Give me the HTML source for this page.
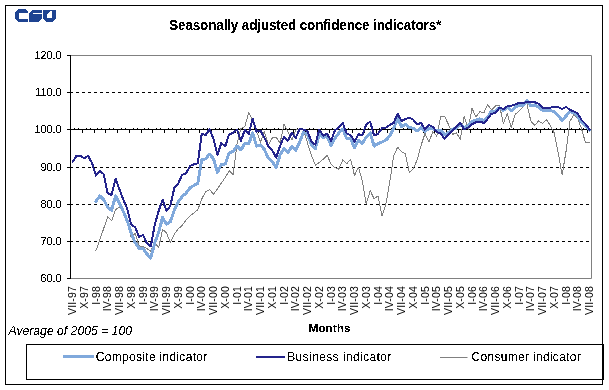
<!DOCTYPE html>
<html><head><meta charset="utf-8"><title>Seasonally adjusted confidence indicators</title>
<style>
html,body{margin:0;padding:0;background:#fff;}
body{width:609px;height:390px;overflow:hidden;}
svg{display:block;font-family:"Liberation Sans",sans-serif;}
</style></head><body>
<svg width="609" height="390" viewBox="0 0 609 390">
<rect x="0" y="0" width="609" height="390" fill="#fff"/>

<rect x="5.5" y="5.5" width="597" height="379" fill="none" stroke="#000" stroke-width="1"/>
<g fill="#1e4391" shape-rendering="crispEdges"><path d="M17.9,9.2 H25.8 L27.8,11.5 V12.7 H18.7 V19 H27.8 V21.8 H17.9 L15,18.8 V13.1 Z"/><path d="M29.2,13.3 L33.1,9.8 H41.6 V12.7 H33 V14.2 H41.6 V18.5 L38.8,21.8 H29.2 Z"/><path fill-rule="evenodd" d="M43.3,10.1 H55.6 V19 L52.8,21.8 H46.3 L43.3,19 Z M47.2,14 L50.5,11.2 H52 V17.8 H47.2 Z"/></g>
<path d="M70,55.5 H591.5 V278.5 H70" fill="none" stroke="#808080" stroke-width="1"/>
<line x1="70" y1="92.5" x2="591" y2="92.5" stroke="#000" stroke-width="1" stroke-dasharray="3,3"/>
<line x1="70" y1="167.5" x2="591" y2="167.5" stroke="#000" stroke-width="1" stroke-dasharray="3,3"/>
<line x1="70" y1="204.5" x2="591" y2="204.5" stroke="#000" stroke-width="1" stroke-dasharray="3,3"/>
<line x1="70" y1="241.5" x2="591" y2="241.5" stroke="#000" stroke-width="1" stroke-dasharray="3,3"/>
<line x1="70" y1="129.5" x2="591" y2="129.5" stroke="#000" stroke-width="1"/>
<line x1="70.5" y1="55" x2="70.5" y2="279" stroke="#000" stroke-width="1"/>
<line x1="67" y1="55.5" x2="70" y2="55.5" stroke="#000" stroke-width="1"/>
<line x1="67" y1="92.5" x2="70" y2="92.5" stroke="#000" stroke-width="1"/>
<line x1="67" y1="129.5" x2="70" y2="129.5" stroke="#000" stroke-width="1"/>
<line x1="67" y1="167.5" x2="70" y2="167.5" stroke="#000" stroke-width="1"/>
<line x1="67" y1="204.5" x2="70" y2="204.5" stroke="#000" stroke-width="1"/>
<line x1="67" y1="241.5" x2="70" y2="241.5" stroke="#000" stroke-width="1"/>
<line x1="67" y1="278.5" x2="70" y2="278.5" stroke="#000" stroke-width="1"/>
<path d="M74.5,128 V129 M78.5,128 V129 M82.5,130 V133 M86.5,128 V129 M90.5,128 V129 M94.5,130 V133 M97.5,128 V129 M101.5,128 V129 M105.5,130 V133 M109.5,128 V129 M113.5,128 V129 M117.5,130 V133 M121.5,128 V129 M125.5,128 V129 M129.5,130 V133 M133.5,128 V129 M137.5,128 V129 M141.5,130 V133 M144.5,128 V129 M148.5,128 V129 M152.5,130 V133 M156.5,128 V129 M160.5,128 V129 M164.5,130 V133 M168.5,128 V129 M172.5,128 V129 M176.5,130 V133 M180.5,128 V129 M184.5,128 V129 M188.5,130 V133 M191.5,128 V129 M195.5,128 V129 M199.5,130 V133 M203.5,128 V129 M207.5,128 V129 M211.5,130 V133 M215.5,128 V129 M219.5,128 V129 M223.5,130 V133 M227.5,128 V129 M231.5,128 V129 M235.5,130 V133 M238.5,128 V129 M242.5,128 V129 M246.5,130 V133 M250.5,128 V129 M254.5,128 V129 M258.5,130 V133 M262.5,128 V129 M266.5,128 V129 M270.5,130 V133 M274.5,128 V129 M278.5,128 V129 M282.5,130 V133 M285.5,128 V129 M289.5,128 V129 M293.5,130 V133 M297.5,128 V129 M301.5,128 V129 M305.5,130 V133 M309.5,128 V129 M313.5,128 V129 M317.5,130 V133 M321.5,128 V129 M325.5,128 V129 M329.5,130 V133 M332.5,128 V129 M336.5,128 V129 M340.5,130 V133 M344.5,128 V129 M348.5,128 V129 M352.5,130 V133 M356.5,128 V129 M360.5,128 V129 M364.5,130 V133 M368.5,128 V129 M372.5,128 V129 M376.5,130 V133 M379.5,128 V129 M383.5,128 V129 M387.5,130 V133 M391.5,128 V129 M395.5,128 V129 M399.5,130 V133 M403.5,128 V129 M407.5,128 V129 M411.5,130 V133 M415.5,128 V129 M419.5,128 V129 M423.5,130 V133 M426.5,128 V129 M430.5,128 V129 M434.5,130 V133 M438.5,128 V129 M442.5,128 V129 M446.5,130 V133 M450.5,128 V129 M454.5,128 V129 M458.5,130 V133 M462.5,128 V129 M466.5,128 V129 M470.5,130 V133 M473.5,128 V129 M477.5,128 V129 M481.5,130 V133 M485.5,128 V129 M489.5,128 V129 M493.5,130 V133 M497.5,128 V129 M501.5,128 V129 M505.5,130 V133 M509.5,128 V129 M513.5,128 V129 M517.5,130 V133 M520.5,128 V129 M524.5,128 V129 M528.5,130 V133 M532.5,128 V129 M536.5,128 V129 M540.5,130 V133 M544.5,128 V129 M548.5,128 V129 M552.5,130 V133 M556.5,128 V129 M560.5,128 V129 M564.5,130 V133 M567.5,128 V129 M571.5,128 V129 M575.5,130 V133 M579.5,128 V129 M583.5,128 V129 M587.5,130 V133" stroke="#000" stroke-width="1" fill="none"/>
<g shape-rendering="crispEdges">
<polyline points="95.96,250.6 99.88,239.4 103.80,228.2 107.71,216.9 111.63,220.9 115.55,209.7 119.47,207.1 123.38,210.4 127.30,220.2 131.22,238.0 135.14,233.0 139.05,245.9 142.97,246.5 146.89,248.5 150.80,251.1 154.72,241.9 158.64,247.9 162.56,229.5 166.47,232.7 170.39,242.6 174.31,234.0 178.23,228.8 182.14,225.5 186.06,220.0 189.98,216.0 193.89,213.0 197.81,209.8 201.73,199.0 205.65,191.8 209.56,189.6 213.48,194.2 217.40,188.9 221.32,183.0 225.23,177.7 229.15,170.6 233.07,174.6 236.98,144.5 240.90,128.5 244.82,126.4 248.74,112.5 252.65,120.4 256.57,131.5 260.49,142.0 264.41,131.5 268.32,145.0 272.24,138.0 276.16,137.3 280.08,143.0 283.99,124.3 287.91,131.5 291.83,140.0 295.74,130.2 299.66,128.9 303.58,130.0 307.50,143.0 311.41,155.3 315.33,165.1 319.25,162.5 323.17,159.2 327.08,155.3 331.00,163.8 334.92,167.7 338.83,169.1 342.75,159.9 346.67,163.8 350.59,159.2 354.50,175.6 358.42,167.1 362.34,180.8 366.26,204.0 370.17,190.6 374.09,198.8 378.01,196.0 381.92,216.1 385.84,204.3 389.76,182.0 393.68,155.8 397.59,147.2 401.51,151.8 405.43,153.8 409.35,172.9 413.26,168.9 417.18,159.7 421.10,145.3 425.02,133.5 428.93,142.0 432.85,131.5 436.77,136.1 440.68,116.4 444.60,116.4 448.52,124.6 452.44,134.5 456.35,132.7 460.27,139.3 464.19,116.3 468.11,129.4 472.02,108.4 475.94,116.9 479.86,111.7 483.77,113.0 487.69,104.5 491.61,110.0 495.53,105.8 499.44,105.1 503.36,123.5 507.28,113.7 511.20,127.5 515.11,114.5 519.03,111.0 522.95,106.7 526.86,103.5 530.78,120.9 534.70,125.5 538.62,120.9 542.53,123.5 546.45,119.6 550.37,125.5 554.29,133.0 558.20,152.6 562.12,175.0 566.04,151.3 569.95,121.5 573.87,114.3 577.79,118.3 581.71,129.4 585.62,143.0 589.54,142.1" fill="none" stroke="#808080" stroke-width="1" stroke-linejoin="round" stroke-linecap="round"/>
<polyline points="95.96,201.5 99.88,195.9 103.80,199.9 107.71,207.0 111.63,210.4 115.55,195.9 119.47,203.1 123.38,211.7 127.30,220.9 131.22,233.0 135.14,242.6 139.05,248.5 142.97,248.5 146.89,254.0 150.80,258.0 154.72,243.0 158.64,232.5 162.56,217.6 166.47,224.2 170.39,221.6 174.31,210.0 178.23,201.8 182.14,196.5 186.06,193.3 189.98,187.8 193.89,185.5 197.81,183.5 201.73,160.0 205.65,158.8 209.56,154.1 213.48,158.7 217.40,172.5 221.32,164.3 225.23,164.0 229.15,153.0 233.07,151.5 236.98,146.0 240.90,150.0 244.82,143.3 248.74,144.0 252.65,132.8 256.57,146.0 260.49,145.0 264.41,149.5 268.32,158.2 272.24,161.8 276.16,167.5 280.08,155.0 283.99,148.4 287.91,152.3 291.83,146.4 295.74,150.4 299.66,142.0 303.58,132.2 307.50,134.5 311.41,144.8 315.33,148.8 319.25,134.3 323.17,137.6 327.08,136.3 331.00,145.5 334.92,138.3 338.83,133.0 342.75,129.1 346.67,138.5 350.59,138.9 354.50,147.5 358.42,140.2 362.34,143.5 366.26,136.9 370.17,133.0 374.09,146.1 378.01,143.5 381.92,142.0 385.84,140.1 389.76,136.1 393.68,128.3 397.59,118.4 401.51,126.9 405.43,124.3 409.35,127.6 413.26,128.3 417.18,130.9 421.10,127.6 425.02,131.5 428.93,128.3 432.85,128.9 436.77,130.9 440.68,130.2 444.60,134.8 448.52,132.5 452.44,129.4 456.35,128.2 460.27,124.8 464.19,127.3 468.11,126.0 472.02,121.5 475.94,120.2 479.86,118.9 483.77,120.3 487.69,117.0 491.61,111.0 495.53,111.0 499.44,107.7 503.36,110.4 507.28,107.1 511.20,111.0 515.11,107.1 519.03,105.1 522.95,106.0 526.86,100.8 530.78,105.8 534.70,105.0 538.62,107.2 542.53,110.4 546.45,110.4 550.37,110.4 554.29,111.7 558.20,115.6 562.12,120.5 566.04,116.0 569.95,111.7 573.87,112.8 577.79,116.3 581.71,122.2 585.62,126.1 589.54,130.0" fill="none" stroke="#80a9dc" stroke-width="3" stroke-linejoin="round" stroke-linecap="round"/>
<polyline points="72.46,162.1 76.38,155.9 80.29,155.9 84.21,158.1 88.13,155.9 92.05,163.1 95.96,175.6 99.88,170.8 103.80,174.3 107.71,193.5 111.63,195.0 115.55,178.7 119.47,189.4 123.38,199.9 127.30,209.0 131.22,224.8 135.14,227.0 139.05,237.0 142.97,235.0 146.89,243.3 150.80,246.5 154.72,224.9 158.64,211.0 162.56,199.8 166.47,211.0 170.39,205.7 174.31,188.0 178.23,183.4 182.14,174.9 186.06,173.5 189.98,166.0 193.89,164.3 197.81,163.3 201.73,133.8 205.65,135.1 209.56,129.2 213.48,139.0 217.40,154.8 221.32,143.0 225.23,146.3 229.15,134.3 233.07,133.0 236.98,129.7 240.90,140.8 244.82,130.0 248.74,134.0 252.65,118.9 256.57,131.6 260.49,130.7 264.41,137.9 268.32,146.0 272.24,150.4 276.16,157.6 280.08,145.8 283.99,136.7 287.91,140.6 291.83,132.7 295.74,138.0 299.66,128.8 303.58,129.7 307.50,131.0 311.41,141.5 315.33,144.8 319.25,129.7 323.17,135.6 327.08,133.7 331.00,140.9 334.92,130.4 338.83,127.1 342.75,123.1 346.67,133.5 350.59,135.0 354.50,141.5 358.42,134.3 362.34,135.0 366.26,124.5 370.17,121.8 374.09,135.6 378.01,133.7 381.92,128.3 385.84,127.6 389.76,125.0 393.68,123.0 397.59,113.8 401.51,121.0 405.43,119.1 409.35,117.7 413.26,119.7 417.18,124.3 421.10,123.0 425.02,129.6 428.93,125.0 432.85,126.9 436.77,132.2 440.68,133.5 444.60,138.8 448.52,134.1 452.44,130.8 456.35,126.2 460.27,122.9 464.19,129.4 468.11,127.5 472.02,124.2 475.94,122.2 479.86,121.5 483.77,122.9 487.69,118.9 491.61,113.7 495.53,113.0 499.44,107.7 503.36,109.1 507.28,106.4 511.20,105.8 515.11,104.5 519.03,102.9 522.95,103.4 526.86,101.8 530.78,102.1 534.70,102.1 538.62,103.8 542.53,107.7 546.45,107.7 550.37,107.7 554.29,106.8 558.20,107.1 562.12,109.1 566.04,106.8 569.95,110.0 573.87,111.3 577.79,113.7 581.71,120.2 585.62,124.2 589.54,129.5" fill="none" stroke="#24248c" stroke-width="2" stroke-linejoin="round" stroke-linecap="round"/>
</g>
<rect x="26.5" y="344.5" width="576" height="35" fill="#fff" stroke="#000" stroke-width="1"/>
<line x1="603.5" y1="344" x2="603.5" y2="380" stroke="#000" stroke-width="1"/>
<line x1="63" y1="356.5" x2="94" y2="356.5" stroke="#80a9dc" stroke-width="3"/>
<line x1="256" y1="357" x2="285" y2="357" stroke="#24248c" stroke-width="2"/>
<line x1="440" y1="357.5" x2="467.5" y2="357.5" stroke="#808080" stroke-width="1"/>
<defs><filter id="crispH" x="0" y="0" width="609" height="390" filterUnits="userSpaceOnUse"><feComponentTransfer><feFuncA type="discrete" tableValues="0 0 0 0 0 0 0 0 0 1 1 1 1 1 1 1 1 1 1 1"/></feComponentTransfer></filter><filter id="crispR" x="0" y="0" width="609" height="390" filterUnits="userSpaceOnUse"><feComponentTransfer><feFuncA type="discrete" tableValues="0 0 0 0 0 1 1 1 1 1 1 1 1 1 1 1 1 1 1 1"/></feComponentTransfer></filter></defs>
<g filter="url(#crispH)">
<text transform="translate(305.2,29.8) scale(1,1.1)" text-anchor="middle" font-weight="bold" font-size="13.4" letter-spacing="-0.1">Seasonally adjusted confidence indicators*</text>
<text x="61.5" y="59.0" text-anchor="end" font-size="10.8">120,0</text>
<text x="61.5" y="96.0" text-anchor="end" font-size="10.8">110,0</text>
<text x="61.5" y="133.0" text-anchor="end" font-size="10.8">100,0</text>
<text x="61.5" y="171.0" text-anchor="end" font-size="10.8">90,0</text>
<text x="61.5" y="208.0" text-anchor="end" font-size="10.8">80,0</text>
<text x="61.5" y="245.0" text-anchor="end" font-size="10.8">70,0</text>
<text x="61.5" y="282.0" text-anchor="end" font-size="10.8">60,0</text>
<text x="329.5" y="332" text-anchor="middle" font-weight="bold" font-size="11.8">Months</text>
<text x="8.5" y="335" font-style="italic" font-size="12.2">Average of 2005 = 100</text>
<text x="95.8" y="360.6" font-size="12" letter-spacing="0.3">Composite indicator</text>
<text x="287.2" y="360.6" font-size="12" letter-spacing="0.4">Business indicator</text>
<text x="471.6" y="360.6" font-size="12" letter-spacing="0.3">Consumer indicator</text>
</g><g>
<text transform="translate(76.0,286) rotate(-90)" text-anchor="end" font-size="10.5" letter-spacing="0.15">VII-97</text>
<text transform="translate(87.7,286) rotate(-90)" text-anchor="end" font-size="10.5" letter-spacing="0.15">X-97</text>
<text transform="translate(99.5,286) rotate(-90)" text-anchor="end" font-size="10.5" letter-spacing="0.15">I-98</text>
<text transform="translate(111.2,286) rotate(-90)" text-anchor="end" font-size="10.5" letter-spacing="0.15">IV-98</text>
<text transform="translate(123.0,286) rotate(-90)" text-anchor="end" font-size="10.5" letter-spacing="0.15">VII-98</text>
<text transform="translate(134.7,286) rotate(-90)" text-anchor="end" font-size="10.5" letter-spacing="0.15">X-98</text>
<text transform="translate(146.5,286) rotate(-90)" text-anchor="end" font-size="10.5" letter-spacing="0.15">I-99</text>
<text transform="translate(158.2,286) rotate(-90)" text-anchor="end" font-size="10.5" letter-spacing="0.15">IV-99</text>
<text transform="translate(170.0,286) rotate(-90)" text-anchor="end" font-size="10.5" letter-spacing="0.15">VII-99</text>
<text transform="translate(181.7,286) rotate(-90)" text-anchor="end" font-size="10.5" letter-spacing="0.15">X-99</text>
<text transform="translate(193.5,286) rotate(-90)" text-anchor="end" font-size="10.5" letter-spacing="0.15">I-00</text>
<text transform="translate(205.2,286) rotate(-90)" text-anchor="end" font-size="10.5" letter-spacing="0.15">IV-00</text>
<text transform="translate(217.0,286) rotate(-90)" text-anchor="end" font-size="10.5" letter-spacing="0.15">VII-00</text>
<text transform="translate(228.7,286) rotate(-90)" text-anchor="end" font-size="10.5" letter-spacing="0.15">X-00</text>
<text transform="translate(240.5,286) rotate(-90)" text-anchor="end" font-size="10.5" letter-spacing="0.15">I-01</text>
<text transform="translate(252.2,286) rotate(-90)" text-anchor="end" font-size="10.5" letter-spacing="0.15">IV-01</text>
<text transform="translate(264.0,286) rotate(-90)" text-anchor="end" font-size="10.5" letter-spacing="0.15">VII-01</text>
<text transform="translate(275.7,286) rotate(-90)" text-anchor="end" font-size="10.5" letter-spacing="0.15">X-01</text>
<text transform="translate(287.5,286) rotate(-90)" text-anchor="end" font-size="10.5" letter-spacing="0.15">I-02</text>
<text transform="translate(299.2,286) rotate(-90)" text-anchor="end" font-size="10.5" letter-spacing="0.15">IV-02</text>
<text transform="translate(311.0,286) rotate(-90)" text-anchor="end" font-size="10.5" letter-spacing="0.15">VII-02</text>
<text transform="translate(322.7,286) rotate(-90)" text-anchor="end" font-size="10.5" letter-spacing="0.15">X-02</text>
<text transform="translate(334.5,286) rotate(-90)" text-anchor="end" font-size="10.5" letter-spacing="0.15">I-03</text>
<text transform="translate(346.3,286) rotate(-90)" text-anchor="end" font-size="10.5" letter-spacing="0.15">IV-03</text>
<text transform="translate(358.0,286) rotate(-90)" text-anchor="end" font-size="10.5" letter-spacing="0.15">VII-03</text>
<text transform="translate(369.8,286) rotate(-90)" text-anchor="end" font-size="10.5" letter-spacing="0.15">X-03</text>
<text transform="translate(381.5,286) rotate(-90)" text-anchor="end" font-size="10.5" letter-spacing="0.15">I-04</text>
<text transform="translate(393.3,286) rotate(-90)" text-anchor="end" font-size="10.5" letter-spacing="0.15">IV-04</text>
<text transform="translate(405.0,286) rotate(-90)" text-anchor="end" font-size="10.5" letter-spacing="0.15">VII-04</text>
<text transform="translate(416.8,286) rotate(-90)" text-anchor="end" font-size="10.5" letter-spacing="0.15">X-04</text>
<text transform="translate(428.5,286) rotate(-90)" text-anchor="end" font-size="10.5" letter-spacing="0.15">I-05</text>
<text transform="translate(440.3,286) rotate(-90)" text-anchor="end" font-size="10.5" letter-spacing="0.15">IV-05</text>
<text transform="translate(452.0,286) rotate(-90)" text-anchor="end" font-size="10.5" letter-spacing="0.15">VII-05</text>
<text transform="translate(463.8,286) rotate(-90)" text-anchor="end" font-size="10.5" letter-spacing="0.15">X-05</text>
<text transform="translate(475.5,286) rotate(-90)" text-anchor="end" font-size="10.5" letter-spacing="0.15">I-06</text>
<text transform="translate(487.3,286) rotate(-90)" text-anchor="end" font-size="10.5" letter-spacing="0.15">IV-06</text>
<text transform="translate(499.0,286) rotate(-90)" text-anchor="end" font-size="10.5" letter-spacing="0.15">VII-06</text>
<text transform="translate(510.8,286) rotate(-90)" text-anchor="end" font-size="10.5" letter-spacing="0.15">X-06</text>
<text transform="translate(522.5,286) rotate(-90)" text-anchor="end" font-size="10.5" letter-spacing="0.15">I-07</text>
<text transform="translate(534.3,286) rotate(-90)" text-anchor="end" font-size="10.5" letter-spacing="0.15">IV-07</text>
<text transform="translate(546.0,286) rotate(-90)" text-anchor="end" font-size="10.5" letter-spacing="0.15">VII-07</text>
<text transform="translate(557.8,286) rotate(-90)" text-anchor="end" font-size="10.5" letter-spacing="0.15">X-07</text>
<text transform="translate(569.5,286) rotate(-90)" text-anchor="end" font-size="10.5" letter-spacing="0.15">I-08</text>
<text transform="translate(581.3,286) rotate(-90)" text-anchor="end" font-size="10.5" letter-spacing="0.15">IV-08</text>
<text transform="translate(593.0,286) rotate(-90)" text-anchor="end" font-size="10.5" letter-spacing="0.15">VII-08</text>
</g>
</svg>
</body></html>
